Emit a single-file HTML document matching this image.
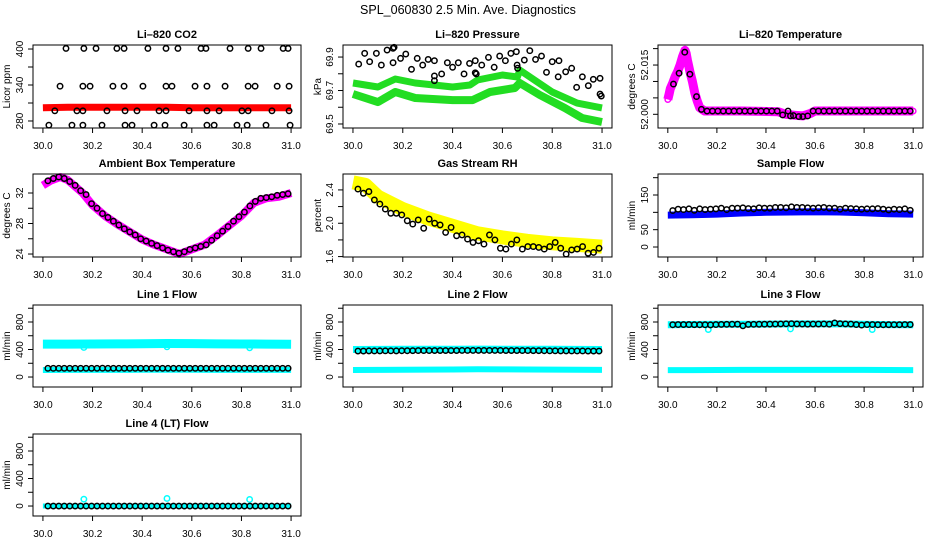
<!DOCTYPE html>
<html><head><meta charset="utf-8">
<style>
html,body{margin:0;padding:0;background:#fff;}
svg{display:block;font-family:"Liberation Sans",Arial,sans-serif;}
.ttl{font-weight:bold;font-size:11px;text-anchor:middle;}
.tk{font-size:10px;}
</style></head>
<body>
<svg id="chart" width="936" height="540" viewBox="0 0 936 540" xmlns="http://www.w3.org/2000/svg">
<text x="468" y="14" text-anchor="middle" font-size="12.5">SPL_060830  2.5 Min. Ave. Diagnostics</text>
</svg>
<script>
// ---- shared times ----
const sampleTimes=[30.02,30.042,30.064,30.086,30.108,30.13,30.152,30.174,30.196,30.218,30.24,30.262,30.284,30.306,30.328,30.35,30.372,30.394,30.416,30.438,30.46,30.482,30.504,30.526,30.548,30.57,30.592,30.614,30.636,30.658,30.68,30.702,30.724,30.746,30.768,30.79,30.812,30.834,30.856,30.878,30.9,30.922,30.944,30.966,30.988];
const bandTimes=[30.0,30.1,30.2,30.3,30.4,30.5,30.6,30.7,30.8,30.9,31.0];
const xTicks=[30.0,30.2,30.4,30.6,30.8,31.0];
const xTickLabels=["30.0","30.2","30.4","30.6","30.8","31.0"];

// ---- CO2 ----
const co2BlackX=[30.093,30.165,30.214,30.298,30.327,30.423,30.496,30.544,30.637,30.657,30.754,30.827,30.879,30.968,30.988,
30.069,30.161,30.19,30.282,30.327,30.403,30.496,30.52,30.613,30.661,30.734,30.827,30.855,30.944,30.992,
30.048,30.137,30.161,30.258,30.331,30.379,30.468,30.496,30.589,30.661,30.71,30.802,30.827,30.923,30.992,
30.024,30.117,30.161,30.238,30.331,30.359,30.448,30.492,30.569,30.661,30.69,30.782,30.823,30.899,30.996];
const co2BlackY=[401,401,401,401,401,401,401,401,401,401,401,401,401,401,401,
338,338,338,338,338,338,338,338,338,338,338,338,338,338,338,
297,297,297,297,297,297,297,297,297,297,297,297,297,297,297,
273,273,273,273,273,273,273,273,273,273,273,273,273,273,273];
const co2RedX=[30.0,30.1,30.2,30.3,30.4,30.5,30.6,30.7,30.8,30.9,31.0];
const co2RedY=[302,303,303,303,303,303,302,302,302,302,302];

// ---- Pressure ----
const presBlackX=[30.023,30.047,30.067,30.094,30.114,30.137,30.161,30.161,30.165,30.191,30.212,30.235,30.258,30.28,30.302,30.327,30.327,30.327,30.356,30.379,30.4,30.423,30.446,30.468,30.491,30.491,30.495,30.517,30.544,30.567,30.589,30.612,30.634,30.656,30.659,30.661,30.688,30.71,30.733,30.757,30.777,30.8,30.824,30.827,30.854,30.878,30.898,30.921,30.945,30.965,30.992,30.992,30.997];
const presBlackY=[69.858,69.922,69.872,69.922,69.852,69.942,69.952,69.866,69.958,69.892,69.918,69.827,69.892,69.852,69.886,69.878,69.759,69.787,69.799,69.866,69.839,69.866,69.799,69.862,69.878,69.806,69.799,69.852,69.898,69.839,69.906,69.878,69.922,69.932,69.852,69.833,69.882,69.938,69.886,69.906,69.809,69.872,69.782,69.878,69.812,69.833,69.719,69.782,69.729,69.767,69.773,69.679,69.667];
const presUpperX=[30.0,30.1,30.17,30.25,30.4,30.47,30.5,30.6,30.66,30.67,30.8,30.9,31.0];
const presUpperY=[69.745,69.721,69.769,69.745,69.721,69.733,69.763,69.793,69.781,69.822,69.691,69.625,69.596];
const presLowerX=[30.0,30.1,30.17,30.25,30.4,30.48,30.55,30.65,30.67,30.75,30.85,30.92,31.0];
const presLowerY=[69.679,69.631,69.691,69.655,69.643,69.643,69.691,69.715,69.745,69.673,69.596,69.536,69.512];

// ---- Li-820 Temperature ----
const tempBlackX=[30.023,30.046,30.069,30.09,30.117,30.137,30.16,30.182,30.204,30.226,30.248,30.27,30.292,30.314,30.336,30.358,30.38,30.402,30.424,30.446,30.468,30.49,30.5,30.512,30.534,30.55,30.57,30.592,30.614,30.636,30.658,30.68,30.702,30.724,30.746,30.768,30.79,30.812,30.834,30.856,30.878,30.9,30.922,30.944,30.966,30.988];
const tempBlackY=[52.0092,52.0125,52.0189,52.0122,52.0054,52.0015,52.0010,52.0010,52.0010,52.0010,52.0010,52.0010,52.0010,52.0010,52.0010,52.0010,52.0010,52.0010,52.0010,52.0010,51.9998,52.0010,51.9995,51.9996,51.9993,51.9993,51.9995,52.0010,52.0010,52.0010,52.0010,52.0010,52.0010,52.0010,52.0010,52.0010,52.0010,52.0010,52.0010,52.0010,52.0010,52.0010,52.0010,52.0010,52.0010,52.0010];
const tempMagX=[30.0,30.005,30.01,30.02,30.03,30.04,30.05,30.06,30.07,30.075,30.08,30.09,30.1,30.11,30.12,30.13,30.15,30.3,30.45,30.48,30.52,30.55,30.58,30.6,30.8,31.0];
const tempMagY=[52.0045,52.006,52.0078,52.0095,52.0115,52.013,52.015,52.0175,52.0195,52.0185,52.0165,52.013,52.010,52.0065,52.004,52.002,52.001,52.001,52.0008,52.0,51.9997,51.9995,52.0002,52.001,52.001,52.001];

// ---- Ambient ----
const ambBlackY=[33.6,33.9,34.1,33.9,33.5,33.0,32.3,31.8,30.6,30.0,29.3,28.8,28.3,27.8,27.3,26.9,26.5,26.0,25.7,25.4,25.1,24.8,24.5,24.3,24.1,24.3,24.6,24.8,25.0,25.2,25.8,26.4,27.0,27.6,28.3,28.9,29.5,30.3,30.9,31.3,31.4,31.5,31.7,31.8,31.9];
const ambMagX=[30.0,30.03,30.07,30.1,30.16,30.2,30.25,30.3,30.35,30.4,30.45,30.5,30.55,30.6,30.65,30.7,30.75,30.8,30.85,30.9,30.95,31.0];
const ambMagY=[33.0,33.6,34.1,33.7,32.0,30.4,29.0,27.9,26.9,25.9,25.2,24.6,24.0,24.6,25.2,26.4,27.7,29.0,30.7,31.3,31.5,32.0];

// ---- RH ----
const rhBlackY=[2.41,2.36,2.38,2.28,2.23,2.17,2.12,2.12,2.10,2.03,1.99,2.04,1.94,2.05,2.00,1.98,1.89,1.95,1.85,1.86,1.81,1.77,1.79,1.75,1.86,1.80,1.70,1.69,1.75,1.80,1.69,1.72,1.72,1.71,1.69,1.72,1.77,1.70,1.63,1.68,1.69,1.72,1.64,1.65,1.70];
const rhYellowX=[30.0,30.05,30.1,30.2,30.3,30.4,30.5,30.6,30.7,30.8,30.9,31.0];
const rhYellowY=[2.49,2.46,2.32,2.17,2.06,1.97,1.88,1.83,1.79,1.76,1.74,1.72];

// ---- Sample flow ----
const sfBlackY=[105,109,108,110,106,110,108,109,110,112,108,112,112,113,111,110,113,112,112,114,114,113,116,114,114,113,112,113,114,112,112,109,112,111,110,109,110,110,111,109,107,109,108,110,106];
const sfBlueY=[92,93,95,98,100,101,102,101,99,96,95];

// ---- Line flows ----
const l1CyanUpper=[478,478,480,482,484,488,486,482,480,478,476];
const l1CyanLower=[102,103,104,104,105,105,105,104,104,103,103];
const l1Black=[126,126,126,127,127,127,127,127,127,127,128,127,127,127,127,127,127,127,127,127,127,127,127,127,127,127,127,127,127,127,127,127,127,127,127,127,127,127,127,127,127,127,127,127,127];
const l2CyanUpper=[400,402,404,404,405,406,405,404,403,402,400];
const l2CyanLower=[102,104,106,108,110,112,111,110,108,106,104];
const l2Black=[378,378,380,379,380,381,381,380,382,382,383,384,384,384,385,385,385,385,385,386,386,386,387,386,386,386,386,385,385,385,384,384,383,383,382,381,381,380,380,379,379,379,378,378,378];
const l3CyanUpper=[760,764,766,768,770,772,772,772,766,762,760];
const l3CyanLower=[100,101,102,103,103,104,104,103,103,102,101];
const l3Black=[760,762,763,762,761,760,760,758,762,765,766,767,768,745,765,766,767,768,769,770,772,773,775,772,770,769,770,770,771,768,786,776,772,770,762,755,762,762,760,760,761,761,761,762,762];
const l4Black=[0,0,0,0,0,0,0,0,0,0,0,0,0,0,0,0,0,0,0,0,0,0,0,0,0,0,0,0,0,0,0,0,0,0,0,0,0,0,0,0,0,0,0,0,0];
const l4CyanBase=[0,0,0,0,0,0,0,0,0,0,0];
const outlierX=[30.165,30.5,30.833];
const l1Outliers=[430,440,425];
const l3Outliers=[690,700,690];
const l4Outliers=[100,110,95];

const NS="http://www.w3.org/2000/svg";
const svg=document.getElementById('chart');
function mk(tag,attrs,parent){const e=document.createElementNS(NS,tag);for(const k in attrs)e.setAttribute(k,attrs[k]);(parent||svg).appendChild(e);return e;}

const cols=[{l:33,r:301,ax:20,tl:7},{l:343,r:612,ax:330,tl:318},{l:658,r:923,ax:645,tl:632}];
const rows=[{t:45,b:128},{t:174,b:257},{t:305,b:387},{t:434,b:516}];

function panel(name,ci,ri,title,ylab,ydom,yticks,ylabels){
  const c=cols[ci],r=rows[ri];
  const g=mk('g',{});
  
  
  const xs=v=>c.l+(v-29.96)/1.08*(c.r-c.l);
  const ys=v=>r.b-(v-ydom[0])/(ydom[1]-ydom[0])*(r.b-r.t);
  const t=mk('text',{x:(c.l+c.r)/2,y:r.t-7,class:'ttl'},g);t.textContent=title;
  
  
  const yl=mk('text',{x:0,y:0,'font-size':10,'text-anchor':'middle',transform:`translate(${c.tl+3},${(r.t+r.b)/2}) rotate(-90)`},g);yl.textContent=ylab;
  
  
  const plot=mk('g',{},g);
  xTicks.forEach((v,i)=>{const x=xs(v);mk('line',{x1:x,x2:x,y1:r.b,y2:r.b+5,stroke:'#000'},g);
    const tx=mk('text',{x:x,y:r.b+21,'text-anchor':'middle',class:'tk'},g);tx.textContent=xTickLabels[i];
    
    });
  yticks.forEach(v=>{const y=ys(v);mk('line',{x1:c.l-5,x2:c.l,y1:y,y2:y,stroke:'#000'},g);});
  ylabels.forEach(v=>{const y=ys(v);const tx=mk('text',{x:0,y:0,'text-anchor':'middle',class:'tk',transform:`translate(${c.ax+3},${y}) rotate(-90)`},g);tx.textContent=String(v);
    
    });
  const box=mk('rect',{x:c.l,y:r.t,width:c.r-c.l,height:r.b-r.t,fill:'none',stroke:'#000'},g);
  
  
  return {g:plot,xs,ys};
}
function band(p,xa,ya,color,w){
  const pts=xa.map((x,i)=>p.xs(x).toFixed(1)+','+p.ys(ya[i]).toFixed(1)).join(' ');
  const pl=mk('polyline',{points:pts,fill:'none',stroke:color,'stroke-width':w,'stroke-linejoin':'round','stroke-linecap':'butt'},p.g);
  
  
}
function pts(p,xa,ya,color){
  xa.forEach((x,i)=>{const c=mk('circle',{cx:p.xs(x),cy:p.ys(ya[i]),r:2.7,fill:'none',stroke:color,'stroke-width':1.5},p.g);
    
    });
}

let p;
p=panel('co2-panel',0,0,'Li\u2013820 CO2','Licor ppm',[268.3,406.7],[280,310,340,370,400],[280,340,400]);
band(p,co2RedX,co2RedY,'#ff0000',7);pts(p,co2BlackX,co2BlackY,'#000');

p=panel('pressure-panel',1,0,'Li\u2013820 Pressure','kPa',[69.476,69.972],[69.5,69.6,69.7,69.8,69.9],[69.5,69.7,69.9]);
band(p,presUpperX,presUpperY,'#22dd22',7);band(p,presLowerX,presLowerY,'#22dd22',8);pts(p,presBlackX,presBlackY,'#000');

p=panel('li820-temperature-panel',2,0,'Li\u2013820 Temperature','degrees C',[51.99583,52.0211],[52.000,52.005,52.010,52.015,52.020],['52.000','52.015']);
band(p,tempMagX,tempMagY,'#ff00ff',9);pts(p,tempMagX,tempMagY,'#ff00ff');pts(p,tempBlackX,tempBlackY,'#000');

p=panel('ambient-temperature-panel',0,1,'Ambient Box Temperature','degrees C',[23.61,34.49],[24,26,28,30,32],[24,28,32]);
band(p,ambMagX,ambMagY,'#ff00ff',8);pts(p,sampleTimes,ambBlackY,'#000');

p=panel('rh-panel',1,1,'Gas Stream RH','percent',[1.595,2.591],[1.6,1.8,2.0,2.2,2.4],['1.6','2.0','2.4']);
band(p,rhYellowX,rhYellowY,'#ffff00',14);pts(p,sampleTimes,rhBlackY,'#000');

p=panel('sample-flow-panel',2,1,'Sample Flow','ml/min',[-28.8,210.6],[0,50,100,150,200],[0,50,150]);
band(p,bandTimes,sfBlueY,'#0000ff',7);pts(p,sampleTimes,sfBlackY,'#000');

const fd=[-145,1047],ft=[0,200,400,600,800,1000],fl=[0,400,800];
p=panel('line1-flow-panel',0,2,'Line 1 Flow','ml/min',fd,ft,fl);
band(p,bandTimes,l1CyanUpper,'#00ffff',9);band(p,bandTimes,l1CyanLower,'#00ffff',6);pts(p,outlierX,l1Outliers,'#00ffff');pts(p,sampleTimes,l1Black,'#000');
p=panel('line2-flow-panel',1,2,'Line 2 Flow','ml/min',fd,ft,fl);
band(p,bandTimes,l2CyanUpper,'#00ffff',7);band(p,bandTimes,l2CyanLower,'#00ffff',6);pts(p,sampleTimes,l2Black,'#000');
p=panel('line3-flow-panel',2,2,'Line 3 Flow','ml/min',fd,ft,fl);
band(p,bandTimes,l3CyanUpper,'#00ffff',7);band(p,bandTimes,l3CyanLower,'#00ffff',6);pts(p,outlierX,l3Outliers,'#00ffff');pts(p,sampleTimes,l3Black,'#000');
p=panel('line4-flow-panel',0,3,'Line 4 (LT) Flow','ml/min',fd,ft,fl);
band(p,bandTimes,l4CyanBase,'#00ffff',5);pts(p,outlierX,l4Outliers,'#00ffff');pts(p,sampleTimes,l4Black,'#000');
</script>
</body></html>
